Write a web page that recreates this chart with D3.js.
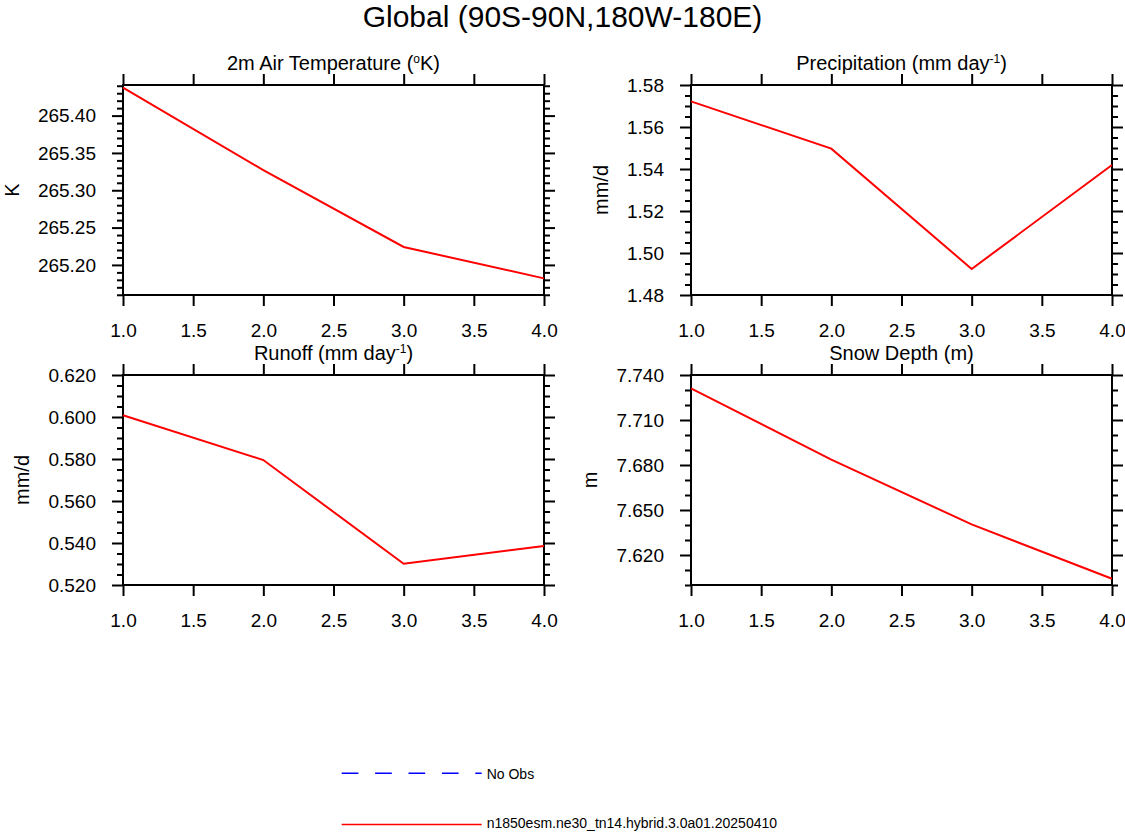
<!DOCTYPE html>
<html><head><meta charset="utf-8">
<script src="https://cdn.jsdelivr.net/npm/d3@7"></script>
<style>
body{margin:0;background:#fff;}
text{font-family:"Liberation Sans",Arial,Helvetica,sans-serif;fill:#000;}
</style>
</head><body>
<svg id="c" width="1125" height="832"></svg>
<script>
// ---- data ----
const xValues = [1, 2, 3, 4];
const xTicks = [1.0, 1.5, 2.0, 2.5, 3.0, 3.5, 4.0];

const tempValues   = [265.4375, 265.327, 265.224, 265.182];
const precValues   = [1.5722, 1.5497, 1.4924, 1.5419];
const runoffValues = [0.6008, 0.5795, 0.5301, 0.5386];
const snowValues   = [7.7311, 7.6836, 7.6404, 7.6042];

const tempTicks   = [265.20, 265.25, 265.30, 265.35, 265.40];
const precTicks   = [1.48, 1.50, 1.52, 1.54, 1.56, 1.58];
const runoffTicks = [0.520, 0.540, 0.560, 0.580, 0.600, 0.620];
const snowTicks   = [7.620, 7.650, 7.680, 7.710, 7.740];

const mainTitle = "Global (90S-90N,180W-180E)";
const legendLabels = ["No Obs", "n1850esm.ne30_tn14.hybrid.3.0a01.20250410"];

// ---- layout ----
const svg = d3.select("#c");
svg.append("rect").attr("width",1125).attr("height",832).attr("fill","#fff");

svg.append("text").attr("x",562.5).attr("y",27).attr("text-anchor","middle")
  .attr("font-size",30).text(mainTitle);

const panels = [
  {title:["2m Air Temperature (","o","K)"], ytitle:"K", values:tempValues,
   domain:[265.1597,265.4410], ticks:tempTicks, minorStep:0.01, fmt:".2f", x:123, y:85},
  {title:["Precipitation (mm day","-1",")"], ytitle:"mm/d", values:precValues,
   domain:[1.48,1.58], ticks:precTicks, minorStep:0.005, fmt:".2f", x:691, y:85},
  {title:["Runoff (mm day","-1",")"], ytitle:"mm/d", values:runoffValues,
   domain:[0.52,0.62], ticks:runoffTicks, minorStep:0.005, fmt:".3f", x:123, y:375},
  {title:["Snow Depth (m)","",""], ytitle:"m", values:snowValues,
   domain:[7.60,7.74], ticks:snowTicks, minorStep:0.01, fmt:".3f", x:691, y:375}
];
const W = 421, H = 210;

panels.forEach(p => {
  const g = svg.append("g").attr("transform",`translate(${p.x},${p.y})`);
  const x = d3.scaleLinear().domain([1,4]).range([0,W]);
  const y = d3.scaleLinear().domain(p.domain).range([H,0]);

  const start = Math.ceil(p.domain[0]/p.minorStep - 1e-6);
  const end = Math.floor(p.domain[1]/p.minorStep + 1e-6);
  const minor = d3.range(start, end+1).map(i => +(i*p.minorStep).toFixed(6))
    .filter(v => !p.ticks.some(t => Math.abs(t-v) < 1e-6));

  const styleAxis = sel => {
    sel.select(".domain").remove();
    sel.selectAll("line").attr("stroke","#000").attr("stroke-width",2);
    sel.selectAll("text").attr("font-size",19).attr("font-family",'"Liberation Sans",Arial,sans-serif');
  };

  // y left major
  const yl = g.append("g").call(d3.axisLeft(y).tickValues(p.ticks).tickSize(11).tickPadding(16)
      .tickFormat(d3.format(p.fmt))).call(styleAxis);
  g.append("g").call(d3.axisLeft(y).tickValues(minor).tickSize(6).tickFormat("")).call(styleAxis);
  // y right
  g.append("g").attr("transform",`translate(${W},0)`)
    .call(d3.axisRight(y).tickValues(p.ticks).tickSize(11).tickFormat("")).call(styleAxis);
  g.append("g").attr("transform",`translate(${W},0)`)
    .call(d3.axisRight(y).tickValues(minor).tickSize(6).tickFormat("")).call(styleAxis);
  // x bottom
  g.append("g").attr("transform",`translate(0,${H})`)
    .call(d3.axisBottom(x).tickValues(xTicks).tickSize(11).tickPadding(18)
      .tickFormat(d3.format(".1f"))).call(styleAxis);
  // x top
  g.append("g").call(d3.axisTop(x).tickValues(xTicks).tickSize(11).tickFormat("")).call(styleAxis);

  // border
  g.append("rect").attr("x",0).attr("y",0).attr("width",W).attr("height",H)
    .attr("fill","none").attr("stroke","#000").attr("stroke-width",2);

  // line
  g.append("path").datum(p.values)
    .attr("fill","none").attr("stroke","#ff0000").attr("stroke-width",2)
    .attr("d", d3.line().x((d,i)=>x(xValues[i])).y(d=>y(d)));

  // title
  const t = g.append("text").attr("x",W/2).attr("y",-15).attr("text-anchor","middle").attr("font-size",20);
  t.append("tspan").text(p.title[0]);
  if (p.title[1]) {
    t.append("tspan").attr("font-size",12).attr("dy",-7).text(p.title[1]);
    t.append("tspan").attr("font-size",20).attr("dy",7).text(p.title[2]);
  }

  // y title
  const bb = yl.node().getBBox();
  const tx = bb.x - 19;
  g.append("text").attr("transform",`translate(${tx},${H/2}) rotate(-90)`)
    .attr("text-anchor","middle").attr("font-size",20).text(p.ytitle);
});

// ---- legend ----
const lg = svg.append("g");
lg.append("line").attr("x1",341.7).attr("x2",481.7).attr("y1",773.3).attr("y2",773.3)
  .attr("stroke","#0000ff").attr("stroke-width",1.5).attr("stroke-dasharray","16.7,16.7");
lg.append("text").attr("x",486.7).attr("y",778.5).attr("font-size",14).text(legendLabels[0]);
lg.append("line").attr("x1",341.7).attr("x2",481.7).attr("y1",824.5).attr("y2",824.5)
  .attr("stroke","#ff0000").attr("stroke-width",1.5);
lg.append("text").attr("x",486.7).attr("y",828).attr("font-size",14).text(legendLabels[1]);
</script>
</body></html>
